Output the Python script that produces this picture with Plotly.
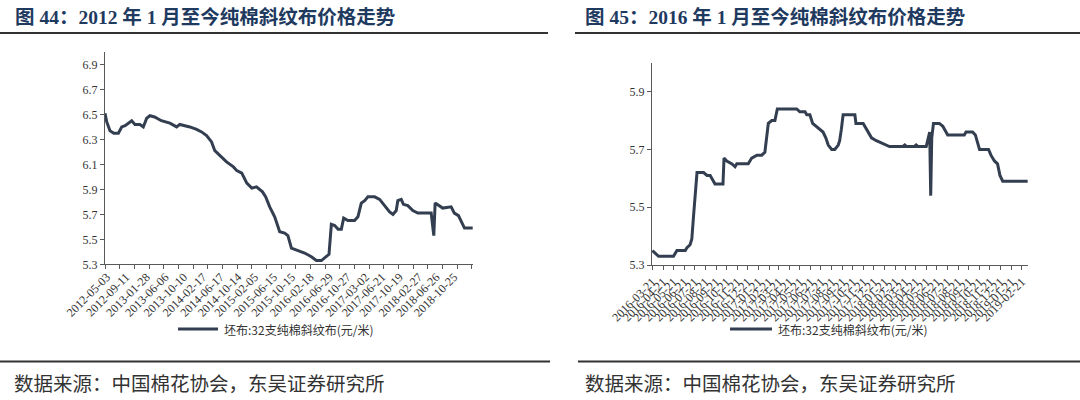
import plotly.graph_objects as go

# ---------------- data ----------------
left_dates = ["2012-04-21", "2012-05-03", "2012-05-25", "2012-06-20", "2012-07-21", "2012-08-13",
              "2012-09-05", "2012-10-20", "2012-11-11", "2012-12-15", "2013-01-07", "2013-01-30",
              "2013-02-21", "2013-03-25", "2013-05-10", "2013-07-07", "2013-08-22", "2013-09-13",
              "2013-10-17", "2013-11-20", "2014-01-05", "2014-02-08", "2014-03-14", "2014-04-17",
              "2014-05-09", "2014-06-24", "2014-07-28", "2014-09-13", "2014-10-06", "2014-11-09",
              "2014-12-13", "2015-01-16", "2015-02-17", "2015-03-30", "2015-04-21", "2015-05-18",
              "2015-06-21", "2015-07-25", "2015-08-28", "2015-09-19", "2015-10-13", "2015-11-27",
              "2016-01-11", "2016-02-26", "2016-03-31", "2016-05-04", "2016-06-07", "2016-06-25",
              "2016-07-11", "2016-08-03", "2016-08-26", "2016-09-17", "2016-10-03", "2016-11-01",
              "2016-12-16", "2017-01-08", "2017-01-31", "2017-02-23", "2017-03-17", "2017-05-02",
              "2017-06-05", "2017-07-09", "2017-08-12", "2017-09-04", "2017-09-26", "2017-10-07",
              "2017-10-30", "2017-11-14", "2017-12-14", "2018-01-17", "2018-02-20", "2018-05-22",
              "2018-06-09", "2018-06-18", "2018-07-17", "2018-08-09", "2018-10-05", "2018-10-27",
              "2018-11-24", "2018-12-12", "2019-01-04", "2019-03-01"]
left_values = [6.51, 6.44, 6.37, 6.35, 6.35, 6.40,
               6.41, 6.45, 6.42, 6.42, 6.40, 6.47,
               6.49, 6.48, 6.45, 6.43, 6.40, 6.42,
               6.41, 6.40, 6.38, 6.36, 6.33, 6.28,
               6.21, 6.16, 6.12, 6.08, 6.05, 6.03,
               5.95, 5.91, 5.92, 5.88, 5.84, 5.76,
               5.68, 5.56, 5.55, 5.53, 5.43, 5.41,
               5.39, 5.36, 5.33, 5.33, 5.36, 5.38,
               5.62, 5.61, 5.58, 5.58, 5.67, 5.65,
               5.65, 5.68, 5.79, 5.81, 5.84, 5.84,
               5.82, 5.77, 5.72, 5.70, 5.73, 5.81,
               5.82, 5.78, 5.77, 5.73, 5.71, 5.71,
               5.53, 5.79, 5.77, 5.75, 5.76, 5.71,
               5.69, 5.64, 5.59, 5.59]

left_ticks = ["2012-05-03", "2012-09-11", "2013-01-28", "2013-06-06", "2013-10-10", "2014-02-17",
              "2014-06-17", "2014-10-14", "2015-02-05", "2015-06-15", "2015-10-15", "2016-02-18",
              "2016-06-29", "2016-10-27", "2017-03-02", "2017-06-21", "2017-10-19", "2018-02-27",
              "2018-06-26", "2018-10-25"]
left_yticks = [5.3, 5.5, 5.7, 5.9, 6.1, 6.3, 6.5, 6.7, 6.9]

right_dates = ["2016-03-21", "2016-03-29", "2016-04-08", "2016-05-21", "2016-05-31", "2016-06-24",
               "2016-06-29", "2016-07-08", "2016-07-13", "2016-07-18", "2016-07-23", "2016-07-28",
               "2016-08-16", "2016-08-26", "2016-09-04", "2016-09-12", "2016-09-18", "2016-10-11",
               "2016-10-14", "2016-10-22", "2016-11-06", "2016-11-15", "2016-11-20", "2016-12-23",
               "2017-01-02", "2017-01-17", "2017-01-31", "2017-02-09", "2017-02-14", "2017-02-19",
               "2017-03-01", "2017-03-10", "2017-03-17", "2017-05-12", "2017-05-21", "2017-06-05",
               "2017-06-10", "2017-06-19", "2017-06-27", "2017-07-08", "2017-07-18", "2017-07-27",
               "2017-08-04", "2017-08-11", "2017-08-21", "2017-08-30", "2017-09-09", "2017-09-13",
               "2017-09-18", "2017-09-23", "2017-10-27", "2017-10-30", "2017-11-20", "2017-11-29",
               "2017-12-14", "2017-12-28", "2018-01-16", "2018-02-04", "2018-03-15", "2018-03-20",
               "2018-03-25", "2018-04-17", "2018-04-22", "2018-04-27", "2018-05-21", "2018-05-26",
               "2018-05-31", "2018-06-03", "2018-06-06", "2018-06-11", "2018-06-28", "2018-07-08",
               "2018-07-18", "2018-07-22", "2018-09-08", "2018-09-13", "2018-10-02", "2018-10-10",
               "2018-10-22", "2018-11-17", "2018-11-24", "2018-12-04", "2018-12-13", "2018-12-20",
               "2018-12-28", "2019-03-10"]
right_values = [5.35, 5.34, 5.33, 5.33, 5.35, 5.35,
                5.36, 5.37, 5.39, 5.47, 5.55, 5.62,
                5.62, 5.61, 5.61, 5.59, 5.58, 5.58,
                5.67, 5.66, 5.65, 5.64, 5.65, 5.65,
                5.67, 5.68, 5.68, 5.69, 5.74, 5.79,
                5.80, 5.80, 5.84, 5.84, 5.83, 5.83,
                5.82, 5.82, 5.79, 5.78, 5.77, 5.76,
                5.74, 5.715, 5.70, 5.70, 5.715, 5.73,
                5.77, 5.82, 5.82, 5.79, 5.79, 5.77,
                5.74, 5.73, 5.72, 5.71, 5.71, 5.715,
                5.71, 5.71, 5.715, 5.71, 5.71, 5.74,
                5.76, 5.54, 5.74, 5.79, 5.79, 5.78,
                5.76, 5.75, 5.75, 5.76, 5.76, 5.75,
                5.70, 5.70, 5.68, 5.66, 5.65, 5.61,
                5.59, 5.59]

right_ticks = ["2016-03-21", "2016-04-21", "2016-05-21", "2016-06-21", "2016-07-21", "2016-08-21",
               "2016-09-21", "2016-10-21", "2016-11-21", "2016-12-21", "2017-01-21", "2017-02-21",
               "2017-03-21", "2017-04-21", "2017-05-21", "2017-06-21", "2017-07-21", "2017-08-21",
               "2017-09-21", "2017-10-21", "2017-11-21", "2017-12-21", "2018-01-21", "2018-02-21",
               "2018-03-21", "2018-04-21", "2018-05-21", "2018-06-21", "2018-07-21", "2018-08-21",
               "2018-09-21", "2018-10-21", "2018-11-21", "2018-12-21", "2019-01-21", "2019-02-21"]
right_yticks = [5.3, 5.5, 5.7, 5.9]

series_name = "坯布:32支纯棉斜纹布(元/米)"
title_left = "图 44：2012 年 1 月至今纯棉斜纹布价格走势"
title_right = "图 45：2016 年 1 月至今纯棉斜纹布价格走势"
source_text = "数据来源：中国棉花协会，东吴证券研究所"

# ---------------- styling ----------------
W, H = 1080, 400
def px(x):
    return x / W
def py(y):
    return 1 - y / H

LINE = "#333F50"
AXIS = "#595959"
TXT = "#333333"
SERIF = "Liberation Serif, Noto Sans CJK SC, serif"
CJK = "Noto Sans CJK SC, sans-serif"
TITLE_COLOR = "#1F3A5F"

fig = go.Figure()
fig.add_trace(go.Scatter(x=left_dates, y=left_values, mode="lines", name=series_name,
                         line=dict(color=LINE, width=3), xaxis="x", yaxis="y", showlegend=False))
fig.add_trace(go.Scatter(x=right_dates, y=right_values, mode="lines", name=series_name,
                         line=dict(color=LINE, width=3), xaxis="x2", yaxis="y2", showlegend=False))

common_x = dict(type="date", showline=True, linecolor=AXIS, linewidth=1, showgrid=False,
                zeroline=False, tickangle=-45, tickfont=dict(family=SERIF, size=12, color=TXT),
                tickmode="array", automargin=False)
common_y = dict(showline=True, linecolor=AXIS, linewidth=1, showgrid=False, zeroline=False,
                ticks="outside", ticklen=4, tickcolor=AXIS, automargin=False,
                tickfont=dict(family=SERIF, size=12, color=TXT), tickmode="array", tickformat=".1f")

fig.update_layout(
    width=W, height=H, margin=dict(l=0, r=0, t=0, b=0),
    paper_bgcolor="white", plot_bgcolor="white", showlegend=False,
    xaxis=dict(common_x, domain=[px(105), px(473)], anchor="y",
               range=["2012-04-21", "2019-03-03"],
               tickvals=left_ticks, ticktext=left_ticks, ticks="",
               minor=dict(ticks="outside", ticklen=4, tickcolor=AXIS,
                          dtick=100 * 86400000, tick0="2012-04-21")),
    yaxis=dict(common_y, domain=[py(264.3), py(52)], anchor="x", range=[5.3, 7.0],
               tickvals=left_yticks),
    xaxis2=dict(common_x, domain=[px(652), px(1028)], anchor="y2",
                range=["2016-03-20", "2019-03-11"],
                tickvals=right_ticks, ticktext=right_ticks, ticks="outside",
                ticklen=4, tickcolor=AXIS),
    yaxis2=dict(common_y, domain=[py(265), py(62.7)], anchor="x2", range=[5.3, 6.0],
                tickvals=right_yticks),
)

shapes = []
# header / footer rules
for (x0, x1) in [(0, 548), (575, 1080)]:
    shapes.append(dict(type="line", xref="paper", yref="paper", x0=px(x0), x1=px(x1),
                       y0=py(33), y1=py(33), line=dict(color="#333333", width=2)))
for (x0, x1) in [(0, 550), (578, 1080)]:
    shapes.append(dict(type="line", xref="paper", yref="paper", x0=px(x0), x1=px(x1),
                       y0=py(361.5), y1=py(361.5), line=dict(color="#333333", width=2)))
# legend samples
for (x0, x1) in [(178, 218), (730, 772)]:
    shapes.append(dict(type="line", xref="paper", yref="paper", x0=px(x0), x1=px(x1),
                       y0=py(329), y1=py(329), line=dict(color=LINE, width=3)))
fig.update_layout(shapes=shapes)

annotations = []
for x, t in [(13, title_left), (583, title_right)]:
    annotations.append(dict(text="<b>" + t + "</b>", xref="paper", yref="paper", x=px(x), y=py(17),
                            xanchor="left", yanchor="middle", showarrow=False,
                            font=dict(family=SERIF, size=19.5, color=TITLE_COLOR)))
for x in [222, 776]:
    annotations.append(dict(text=series_name, xref="paper", yref="paper", x=px(x), y=py(329),
                            xanchor="left", yanchor="middle", showarrow=False,
                            font=dict(family=CJK, size=12, color=TXT)))
for x in [12, 583]:
    annotations.append(dict(text=source_text, xref="paper", yref="paper", x=px(x), y=py(382),
                            xanchor="left", yanchor="middle", showarrow=False,
                            font=dict(family=CJK, size=19.5, color=TXT)))
fig.update_layout(annotations=annotations)

fig.write_html("out.html", config={"displayModeBar": False},
               post_script="document.body.style.margin='0';document.body.style.padding='0';")
